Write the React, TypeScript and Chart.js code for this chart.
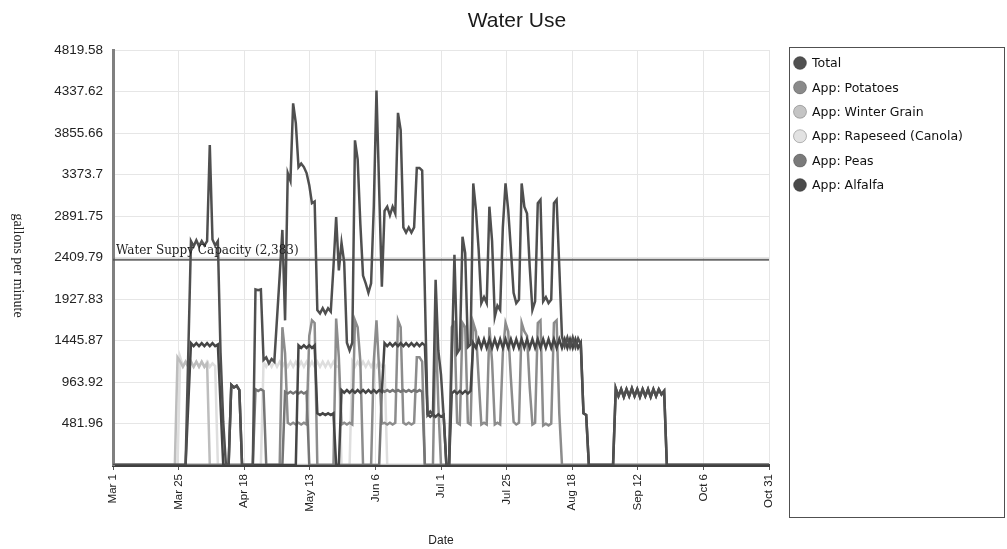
import React, { useEffect, useRef } from 'react';
import { Chart, registerables } from 'chart.js';

Chart.register(...registerables);

// ---------- axis / labels ----------
const chartTitle = 'Water Use';
const xAxisTitle = 'Date';
const yAxisTitle = 'gallons per minute';
const xTickLabels = ['Mar 1', 'Mar 25', 'Apr 18', 'May 13', 'Jun 6', 'Jul 1', 'Jul 25', 'Aug 18', 'Sep 12', 'Oct 6', 'Oct 31'];
const xTickStep = 24.4; // days between x ticks
const xMax = 244; // days from Mar 1 to Oct 31
const yTickLabels = ['', '481.96', '963.92', '1445.87', '1927.83', '2409.79', '2891.75', '3373.7', '3855.66', '4337.62', '4819.58'];
const yTickStep = 481.958;
const yMax = 4819.58;
const capacityValue = 2383;
const capacityLabel = 'Water Suppy Capacity (2,383)';

// ---------- series (day index from Mar 1, gallons per minute) ----------
const seriesNames = ['Total', 'App: Potatoes', 'App: Winter Grain', 'App: Rapeseed (Canola)', 'App: Peas', 'App: Alfalfa'];

const totalPts: [number, number][] = [
  [0, 0], [27, 0], [29, 2600], [30, 2540], [31, 2610], [32, 2540], [33, 2600], [34, 2550], [35, 2600], [36, 3715],
  [37, 2620], [38, 2550], [39, 2600], [40, 1300], [41, 500], [42, 0], [43, 0], [44, 930], [45, 900], [46, 920],
  [47, 870], [48, 0], [52, 0], [53, 2040], [54, 2030], [55, 2040], [56, 1220], [57, 1250], [58, 1180], [59, 1230],
  [60, 1200], [61, 1700], [62, 2200], [63, 2730], [64, 1680], [65, 3390], [66, 3300], [67, 4200], [68, 3970], [69, 3460],
  [70, 3500], [71, 3460], [72, 3390], [73, 3250], [74, 3040], [75, 3060], [76, 1800], [77, 1760], [78, 1820], [79, 1760],
  [80, 1820], [81, 1780], [82, 2300], [83, 2880], [84, 2260], [85, 2580], [86, 2350], [87, 1420], [88, 1330], [89, 1420],
  [90, 3770], [91, 3550], [92, 2800], [93, 2200], [94, 2110], [95, 2000], [96, 2110], [97, 3000], [98, 4350], [99, 3200],
  [100, 2070], [101, 2950], [102, 3000], [103, 2900], [104, 3000], [105, 2920], [106, 4090], [107, 3890], [108, 2760], [109, 2700],
  [110, 2760], [111, 2700], [112, 2760], [113, 3450], [114, 3450], [115, 3420], [117, 580], [118, 620], [119, 580], [120, 2150],
  [121, 1330], [122, 1050], [123, 560], [124, 0], [125, 0], [127, 2440], [128, 1300], [129, 1350], [130, 2650], [131, 2460],
  [132, 1370], [133, 1400], [134, 3270], [135, 2960], [136, 2500], [137, 1880], [138, 1950], [139, 1880], [140, 3000], [141, 2600],
  [142, 1720], [143, 1850], [144, 1800], [145, 2760], [146, 3270], [147, 2960], [148, 2500], [149, 2000], [150, 1880], [151, 1920],
  [152, 3270], [153, 3000], [154, 2920], [155, 2300], [156, 1800], [157, 1900], [158, 3040], [159, 3080], [160, 1900], [161, 1950],
  [162, 1880], [163, 1920], [164, 3040], [165, 3080], [166, 2300], [167, 1490], [168, 1380], [169, 1480], [170, 1370], [171, 1480],
  [172, 1370], [173, 1470], [174, 1400], [175, 600], [176, 580], [177, 0], [186, 0], [187, 890], [188, 800], [189, 880],
  [190, 790], [191, 880], [192, 800], [193, 890], [194, 800], [195, 880], [196, 790], [197, 880], [198, 800], [199, 880],
  [200, 790], [201, 880], [202, 800], [203, 880], [204, 820], [205, 860], [206, 0], [244, 0],
];

const potatoesPts: [number, number][] = [
  [0, 0], [62, 0], [63, 1600], [64, 1300], [65, 490], [66, 470], [67, 490], [68, 470], [69, 490], [70, 470],
  [71, 490], [72, 470], [73, 1500], [74, 1680], [75, 1650], [76, 0], [82, 0], [83, 1700], [84, 1250], [85, 470],
  [86, 490], [87, 470], [88, 490], [89, 470], [90, 1680], [91, 1600], [92, 1200], [93, 0], [96, 0], [97, 1200],
  [98, 1680], [99, 1100], [100, 480], [101, 490], [102, 470], [103, 490], [104, 470], [105, 490], [106, 1680], [107, 1600],
  [108, 490], [109, 470], [110, 490], [111, 470], [112, 490], [113, 1250], [114, 1250], [115, 1200], [116, 0], [119, 0],
  [120, 1650], [121, 700], [122, 0], [125, 0], [126, 1600], [127, 1650], [128, 490], [129, 470], [130, 1650], [131, 1600],
  [132, 490], [133, 470], [134, 1650], [135, 1550], [136, 1000], [137, 470], [138, 490], [139, 470], [140, 1600], [141, 1200],
  [142, 470], [143, 490], [144, 470], [145, 1300], [146, 1650], [147, 1550], [148, 1000], [149, 500], [150, 470], [151, 490],
  [152, 1650], [153, 1550], [154, 1500], [155, 900], [156, 470], [157, 490], [158, 1650], [159, 1680], [160, 460], [161, 480],
  [162, 460], [163, 480], [164, 1650], [165, 1680], [166, 600], [167, 0], [244, 0],
];

const winterGrainPts: [number, number][] = [
  [0, 0], [23, 0], [24, 1250], [25, 1200], [26, 1140], [27, 1200], [28, 1140], [29, 1200], [30, 1140], [31, 1200],
  [32, 1140], [33, 1200], [34, 1140], [35, 1180], [36, 0], [244, 0],
];

const rapeseedPts: [number, number][] = [
  [0, 0], [24, 0], [25, 1250], [26, 1150], [27, 1200], [28, 1140], [29, 1200], [30, 1140], [31, 1200], [32, 1140],
  [33, 1200], [34, 1140], [35, 1200], [36, 1140], [37, 1180], [38, 1150], [39, 0], [55, 0], [56, 1200], [57, 1140],
  [58, 1200], [59, 1140], [60, 1200], [61, 1140], [62, 1200], [63, 1140], [64, 1200], [65, 1140], [66, 1200], [67, 1140],
  [68, 1200], [69, 1140], [70, 1200], [71, 1140], [72, 1200], [73, 1140], [74, 1200], [75, 1140], [76, 1200], [77, 1140],
  [78, 1200], [79, 1140], [80, 1200], [81, 1140], [82, 1200], [83, 1140], [84, 1150], [85, 0], [88, 0], [89, 1200],
  [90, 1140], [91, 1200], [92, 1140], [93, 1200], [94, 1140], [95, 1200], [96, 1140], [97, 1200], [98, 1140], [99, 1200],
  [100, 1140], [101, 1150], [102, 0], [244, 0],
];

const peasPts: [number, number][] = [
  [0, 0], [52, 0], [53, 880], [54, 860], [55, 880], [56, 860], [57, 0], [63, 0], [64, 850], [65, 830],
  [66, 850], [67, 830], [68, 850], [69, 830], [70, 850], [71, 830], [72, 850], [73, 0], [99, 0], [100, 870],
  [101, 850], [102, 870], [103, 850], [104, 870], [105, 850], [106, 870], [107, 850], [108, 870], [109, 850], [110, 870],
  [111, 850], [112, 870], [113, 850], [114, 870], [115, 850], [116, 0], [244, 0],
];

const alfalfaPts: [number, number][] = [
  [0, 0], [27, 0], [29, 1415], [30, 1380], [31, 1415], [32, 1380], [33, 1415], [34, 1380], [35, 1415], [36, 1380],
  [37, 1415], [38, 1380], [39, 1400], [41, 0], [43, 0], [44, 930], [45, 900], [46, 920], [47, 870], [48, 0],
  [68, 0], [69, 1390], [70, 1360], [71, 1390], [72, 1360], [73, 1390], [74, 1360], [75, 1390], [76, 600], [77, 580],
  [78, 600], [79, 580], [80, 600], [81, 580], [82, 600], [83, 0], [84, 0], [85, 870], [86, 840], [87, 870],
  [88, 840], [89, 870], [90, 840], [91, 870], [92, 840], [93, 870], [94, 840], [95, 870], [96, 840], [97, 870],
  [98, 840], [99, 870], [100, 850], [101, 1415], [102, 1380], [103, 1415], [104, 1380], [105, 1415], [106, 1380], [107, 1415],
  [108, 1380], [109, 1415], [110, 1380], [111, 1415], [112, 1380], [113, 1415], [114, 1380], [115, 1415], [116, 1390], [117, 590],
  [118, 560], [119, 590], [120, 560], [121, 590], [122, 560], [123, 580], [124, 0], [125, 0], [126, 830], [127, 860],
  [128, 830], [129, 860], [130, 830], [131, 860], [132, 830], [133, 860], [134, 1415], [135, 1360], [136, 1460], [137, 1360],
  [138, 1460], [139, 1360], [140, 1460], [141, 1360], [142, 1460], [143, 1360], [144, 1460], [145, 1360], [146, 1460], [147, 1360],
  [148, 1460], [149, 1360], [150, 1460], [151, 1360], [152, 1460], [153, 1360], [154, 1460], [155, 1360], [156, 1460], [157, 1360],
  [158, 1460], [159, 1360], [160, 1460], [161, 1360], [162, 1460], [163, 1360], [164, 1460], [165, 1360], [166, 1460], [167, 1360],
  [168, 1460], [169, 1360], [170, 1460], [171, 1360], [172, 1460], [173, 1360], [174, 1420], [175, 600], [176, 580], [177, 0],
  [186, 0], [187, 890], [188, 800], [189, 880], [190, 790], [191, 880], [192, 800], [193, 890], [194, 800], [195, 880],
  [196, 790], [197, 880], [198, 800], [199, 880], [200, 790], [201, 880], [202, 800], [203, 880], [204, 820], [205, 860],
  [206, 0], [244, 0],
];

const seriesPoints = [totalPts, potatoesPts, winterGrainPts, rapeseedPts, peasPts, alfalfaPts];
const seriesColors = ['#4f4f4f', '#8c8c8c', '#bdbdbd', '#dedede', '#757575', '#454545'];
const legendColors = ['#505050', '#8a8a8a', '#c4c4c4', '#e2e2e2', '#7a7a7a', '#4a4a4a'];
const drawOrder = [1, 4, 5, 6, 3, 2];

const sans = '"Liberation Sans", Arial, sans-serif';
const serif = '"Liberation Serif", "Times New Roman", serif';
const legendFont = '"DejaVu Sans", Verdana, sans-serif';

const decorPlugin = {
  id: 'decor',
  afterDatasetsDraw(chart: any) {
    const { ctx, chartArea, scales } = chart;
    const yCap = scales.y.getPixelForValue(capacityValue);
    ctx.save();
    ctx.strokeStyle = 'rgba(80,80,80,0.85)';
    ctx.lineWidth = 2;
    ctx.beginPath();
    ctx.moveTo(chartArea.left, yCap);
    ctx.lineTo(chartArea.right, yCap);
    ctx.stroke();
    ctx.fillStyle = '#222';
    ctx.font = '12px "DejaVu Serif", serif';
    ctx.textAlign = 'left';
    ctx.textBaseline = 'alphabetic';
    ctx.fillText(capacityLabel, chartArea.left + 3, yCap - 6);
    ctx.restore();
  },
  afterDraw(chart: any) {
    const { ctx, chartArea } = chart;
    ctx.save();
    // title
    ctx.fillStyle = '#1a1a1a';
    ctx.font = `21px ${sans}`;
    ctx.textAlign = 'center';
    ctx.textBaseline = 'middle';
    ctx.fillText(chartTitle, 517, 21);
    // x title
    ctx.font = `12px ${sans}`;
    ctx.fillStyle = '#222';
    ctx.fillText(xAxisTitle, (chartArea.left + chartArea.right) / 2, 541);
    // y title (reads top to bottom)
    ctx.save();
    ctx.translate(18, (chartArea.top + chartArea.bottom) / 2 + 8);
    ctx.rotate(Math.PI / 2);
    ctx.font = `14px ${serif}`;
    ctx.fillText(yAxisTitle, 0, 0);
    ctx.restore();
    // legend box
    ctx.fillStyle = '#ffffff';
    ctx.strokeStyle = '#505050';
    ctx.lineWidth = 1;
    ctx.fillRect(789.5, 47.5, 215, 470);
    ctx.strokeRect(789.5, 47.5, 215, 470);
    seriesNames.forEach((name, i) => {
      const cy = 63 + i * 24.4;
      ctx.beginPath();
      ctx.arc(800, cy, 6.5, 0, Math.PI * 2);
      ctx.fillStyle = legendColors[i];
      ctx.fill();
      ctx.strokeStyle = 'rgba(0,0,0,0.25)';
      ctx.stroke();
      ctx.fillStyle = '#111';
      ctx.font = `12.5px ${legendFont}`;
      ctx.textAlign = 'left';
      ctx.textBaseline = 'middle';
      ctx.fillText(name, 812, cy + 1);
    });
    ctx.restore();
  },
};

export default function App() {
  const canvasRef = useRef<HTMLCanvasElement | null>(null);

  useEffect(() => {
    if (!canvasRef.current) return;
    const chart = new Chart(canvasRef.current, {
      type: 'line',
      data: {
        datasets: seriesNames.map((name, i) => ({
          label: name,
          data: seriesPoints[i].map(([x, y]) => ({ x, y })),
          borderColor: seriesColors[i],
          backgroundColor: seriesColors[i],
          borderWidth: 2.5,
          pointRadius: 0,
          tension: 0,
          fill: false,
          order: drawOrder[i],
        })),
      },
      options: {
        responsive: false,
        animation: false,
        layout: { padding: { left: 0, right: 238, top: 50, bottom: 0 } },
        plugins: {
          legend: { display: false },
          title: { display: false },
          tooltip: { enabled: false },
        },
        scales: {
          x: {
            type: 'linear',
            min: 0,
            max: xMax,
            afterBuildTicks: (scale: any) => {
              scale.ticks = xTickLabels.map((_, i) => ({ value: i * xTickStep }));
            },
            afterFit: (scale: any) => {
              scale.height = 84;
            },
            ticks: {
              autoSkip: false,
              minRotation: 90,
              maxRotation: 90,
              padding: 4,
              color: '#222',
              font: { family: sans, size: 11.5 },
              callback: (_v: any, idx: number) => xTickLabels[idx],
            },
            grid: { color: '#e6e6e6', lineWidth: 1, tickLength: 5, tickColor: '#555' },
            border: { color: '#404040', width: 3 },
          },
          y: {
            type: 'linear',
            min: 0,
            max: yMax,
            afterBuildTicks: (scale: any) => {
              scale.ticks = yTickLabels.map((_, i) => ({ value: i * yTickStep }));
            },
            afterFit: (scale: any) => {
              scale.width = 113;
            },
            ticks: {
              autoSkip: false,
              padding: 10,
              color: '#222',
              font: { family: sans, size: 13.5 },
              callback: (_v: any, idx: number) => yTickLabels[idx],
            },
            grid: { color: '#e6e6e6', lineWidth: 1, drawTicks: false },
            border: { color: '#808080', width: 3 },
          },
        },
      },
      plugins: [decorPlugin],
    });
    return () => chart.destroy();
  }, []);

  return (
    <div style={{ position: 'fixed', left: 0, top: 0, width: 1007, height: 549, background: '#fff' }}>
      <canvas ref={canvasRef} width={1007} height={549} style={{ display: 'block' }} />
    </div>
  );
}
